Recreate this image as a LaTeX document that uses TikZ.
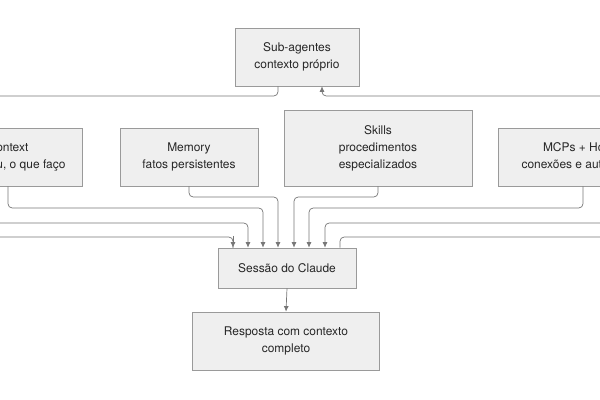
\documentclass[tikz,border=0pt]{standalone}
\usepackage{fontspec}
\setmainfont{TeX Gyre Heros}
\usetikzlibrary{arrows.meta}
\definecolor{boxfill}{HTML}{EFEFEF}
\definecolor{boxline}{HTML}{9A9A9A}
\definecolor{wirecol}{HTML}{777777}
\begin{document}
\begin{tikzpicture}[x=0.025cm, y=-0.025cm]
            \tikzstyle{every node}=[rectangle, fill=boxfill, draw=boxline, align=center, font=\fontsize{8.5}{12}\selectfont, text=black!85]
            \tikzstyle{wire}=[wirecol, line width=0.5pt, rounded corners=3pt, -{Latex[length=4pt,width=3.5pt]}]

            \useasboundingbox (0,0) rectangle (600,400);
            \clip (0,0) rectangle (600,400);

            \node[minimum width=3.1cm, minimum height=1.45cm] (sub) at (297,57) {Sub-agentes\\contexto próprio};
            \node[minimum width=3.7cm, minimum height=1.45cm] (ctx) at (8,157) {Context\\quem sou, o que faço};
            \node[minimum width=3.45cm, minimum height=1.45cm] (mem) at (189,157) {Memory\\fatos persistentes};
            \node[minimum width=4.7cm, minimum height=1.9cm] (skl) at (378,148) {Skills\\procedimentos\\especializados};
            \node[minimum width=4.25cm, minimum height=1.45cm] (mcp) at (583,157) {MCPs + Hooks\\conexões e automação};
            \node[minimum width=3.45cm, minimum height=1.0cm] (ses) at (287,268) {Sessão do Claude};
            \node[minimum width=4.675cm, minimum height=1.45cm] (res) at (286,341) {Resposta com contexto\\completo};

            \coordinate (west a) at (-40,223);
            \coordinate (east a) at (640,223);

            \draw[wire] (ctx.south) |- (263,208) -- (ses.north -| 263,0);
            \draw[wire] (mem.south) |- (278,197) -- (ses.north -| 278,0);
            \draw[wire] (skl.south) |- (294,197) -- (ses.north -| 294,0);
            \draw[wire] (mcp.south) |- (309,208) -- (ses.north -| 309,0);
            \draw[wire] (west a) -| (ses.north -| 248,0);
            \draw[wire] (east a) -| (ses.north -| 325,0);
            \draw[wire] (ses.south) -- (res.north);

            % loop through the sub-agents
            \draw[wire, -] (sub.south -| 278,0) |- (-40,96) -- (-40,237) -| (233,248);
            \draw[wire] (233,236) -- (ses.north -| 233,0);
            \draw[wire] (ses.north -| 340,0) |- (640,237) -- (640,96) -| (sub.south -| 322,0);
        \end{tikzpicture}
\end{document}
